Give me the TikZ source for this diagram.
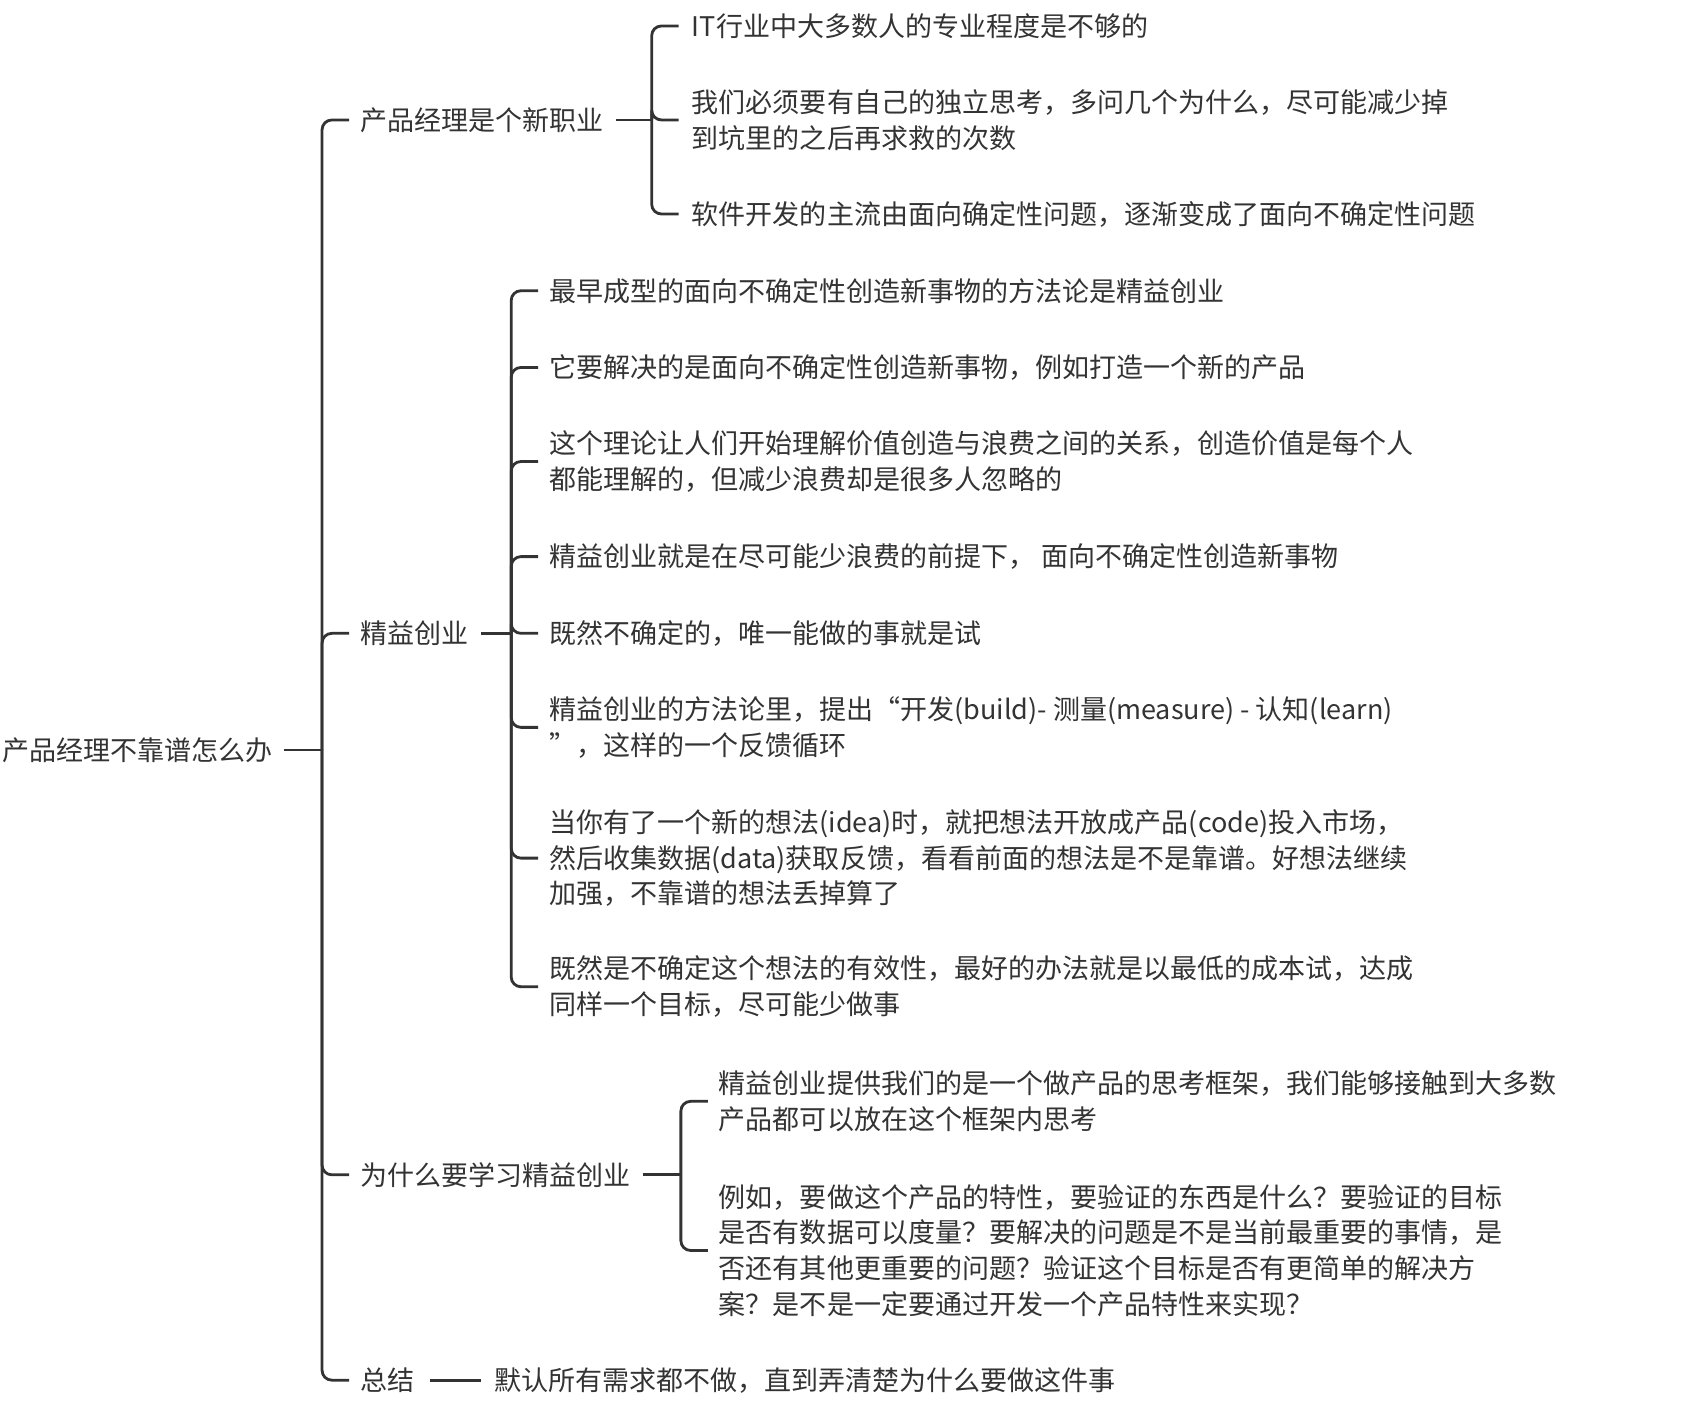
\documentclass[tikz,border=0pt]{standalone}
\usepackage{fontspec}
\setmainfont{Noto Sans CJK SC}
\definecolor{ink}{HTML}{333333}
\begin{document}
\begin{tikzpicture}[x=1pt,y=-1pt,
  t/.style={anchor=west,inner sep=0pt,align=left,text=ink,font=\fontsize{25}{33}\selectfont},
  br/.style={draw=ink,line width=2.6pt,rounded corners=9pt}]
\useasboundingbox (0,0) rectangle (1560,1310);
\begin{scope}[yshift=1pt]
\node[t] (root) at (2,695) {产品经理不靠谱怎么办};
\node[t] (a) at (333,112) {产品经理是个新职业};
\node[t] (b) at (333,587) {精益创业};
\node[t] (c) at (333,1088) {为什么要学习精益创业};
\node[t] (d) at (333,1278) {总结};
\node[t] (a1) at (640,25) {IT行业中大多数人的专业程度是不够的};
\node[t] (a2) at (640,112) {我们必须要有自己的独立思考，多问几个为什么，尽可能减少掉\\到坑里的之后再求救的次数};
\node[t] (a3) at (640,199) {软件开发的主流由面向确定性问题，逐渐变成了面向不确定性问题};
\node[t] (b1) at (508,270) {最早成型的面向不确定性创造新事物的方法论是精益创业};
\node[t] (b2) at (508,341) {它要解决的是面向不确定性创造新事物，例如打造一个新的产品};
\node[t] (b3) at (508,428) {这个理论让人们开始理解价值创造与浪费之间的关系，创造价值是每个人\\都能理解的，但减少浪费却是很多人忽略的};
\node[t] (b4) at (508,516) {精益创业就是在尽可能少浪费的前提下，\ 面向不确定性创造新事物};
\node[t] (b5) at (508,587) {既然不确定的，唯一能做的事就是试};
\node[t] (b6) at (508,674) {精益创业的方法论里，提出“开发(build)- 测量(measure) - 认知(learn)\\”，这样的一个反馈循环};
\node[t] (b7) at (508,795) {当你有了一个新的想法(idea)时，就把想法开放成产品(code)投入市场，\\然后收集数据(data)获取反馈，看看前面的想法是不是靠谱。好想法继续\\加强，不靠谱的想法丢掉算了};
\node[t] (b8) at (508,914) {既然是不确定这个想法的有效性，最好的办法就是以最低的成本试，达成\\同样一个目标，尽可能少做事};
\node[t] (c1) at (665,1020) {精益创业提供我们的是一个做产品的思考框架，我们能够接触到大多数\\产品都可以放在这个框架内思考};
\node[t] (c2) at (665,1158) {例如，要做这个产品的特性，要验证的东西是什么？要验证的目标\\是否有数据可以度量？要解决的问题是不是当前最重要的事情，是\\否还有其他更重要的问题？验证这个目标是否有更简单的解决方\\案？是不是一定要通过开发一个产品特性来实现？};
\node[t] (d1) at (457,1278) {默认所有需求都不做，直到弄清楚为什么要做这件事};
\draw[br] ([xshift=10pt]root.east) -- (298,695);
\foreach \n in {a,b,c,d} \draw[br] (298,695) |- ([xshift=-10pt]\n.west);
\draw[br] ([xshift=12pt]a.east) -- (603,112);
\foreach \n in {a1,a2,a3} \draw[br] (603,112) |- ([xshift=-12pt]\n.west);
\draw[br] ([xshift=12pt]b.east) -- (473,587);
\foreach \n in {b1,b2,b3,b4,b5,b6,b7,b8} \draw[br] (473,587) |- ([xshift=-10pt]\n.west);
\draw[br] ([xshift=12pt]c.east) -- (630,1088);
\foreach \n in {c1,c2} \draw[br] (630,1088) |- ([xshift=-10pt]\n.west);
\draw[br] ([xshift=14pt]d.east) -- ([xshift=-12pt]d1.west);
\end{scope}
\end{tikzpicture}
\end{document}
